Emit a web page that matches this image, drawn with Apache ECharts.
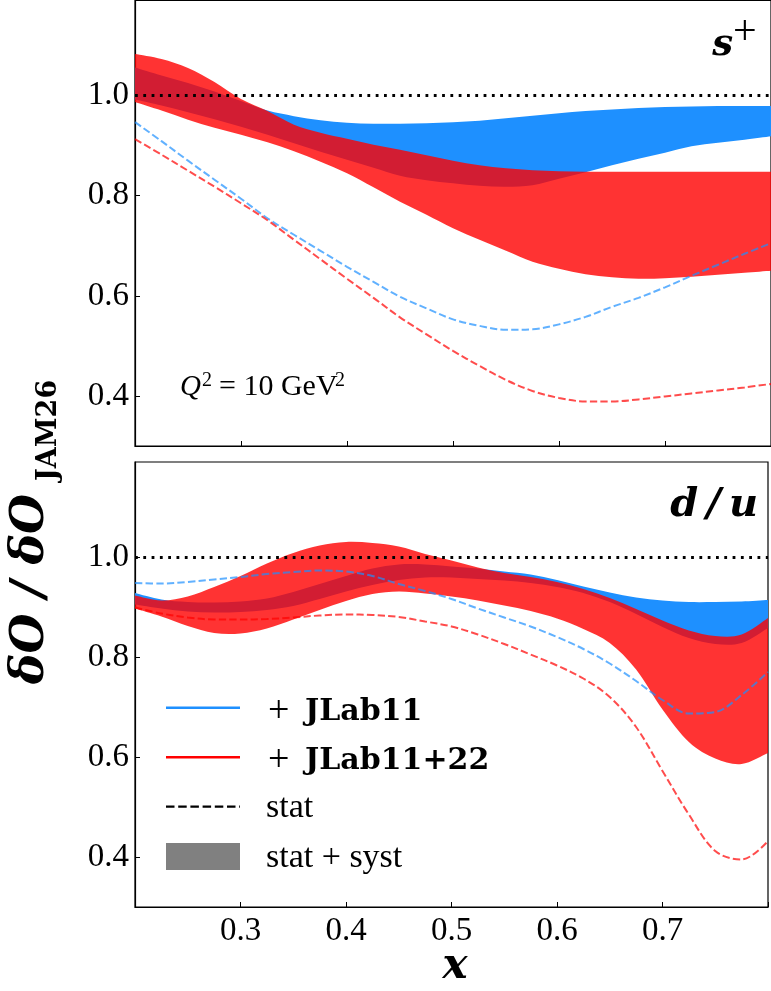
<!DOCTYPE html>
<html>
<head>
<meta charset="utf-8">
<script src="https://cdn.jsdelivr.net/npm/echarts@6/dist/echarts.min.js"></script>
<style>
  html, body { margin: 0; padding: 0; background: #fff; }
  #chart { width: 771px; height: 991px; }
</style>
</head>
<body>
<div id="chart"></div>
<script>
// Sampling grid in x shared by every curve
const xs = [0.200, 0.225, 0.250, 0.275, 0.300, 0.325, 0.350, 0.375, 0.400, 0.425, 0.450, 0.475, 0.500,
            0.525, 0.550, 0.575, 0.600, 0.625, 0.650, 0.675, 0.700, 0.725, 0.750, 0.775, 0.800];

// s+ panel: stat+syst bands (lower / upper) and stat-only ratios
const sPlusJLab11Lo   = [0.992,0.980,0.967,0.953,0.938,0.922,0.905,0.888,0.872,0.856,0.840,0.831,0.825,0.820,0.818,0.821,0.834,0.847,0.861,0.874,0.886,0.899,0.906,0.912,0.919];
const sPlusJLab11Hi   = [1.056,1.040,1.025,1.008,0.989,0.970,0.959,0.951,0.946,0.944,0.944,0.945,0.947,0.950,0.955,0.960,0.965,0.969,0.972,0.975,0.977,0.978,0.979,0.979,0.979];
const sPlusJLab22Lo   = [0.987,0.970,0.952,0.936,0.922,0.907,0.889,0.868,0.845,0.817,0.788,0.762,0.735,0.712,0.690,0.668,0.654,0.643,0.637,0.634,0.635,0.638,0.642,0.646,0.650];
const sPlusJLab22Hi   = [1.083,1.073,1.055,1.027,0.993,0.969,0.942,0.926,0.914,0.902,0.892,0.881,0.870,0.861,0.855,0.851,0.849,0.848,0.848,0.848,0.848,0.848,0.848,0.848,0.848];
const sPlusJLab11Stat = [0.947,0.909,0.870,0.832,0.794,0.755,0.722,0.690,0.658,0.628,0.598,0.575,0.553,0.540,0.532,0.533,0.543,0.558,0.578,0.596,0.617,0.640,0.662,0.684,0.705];
const sPlusJLab22Stat = [0.913,0.882,0.850,0.818,0.785,0.751,0.712,0.673,0.634,0.596,0.557,0.523,0.490,0.460,0.432,0.410,0.396,0.389,0.389,0.393,0.399,0.405,0.411,0.417,0.424];

// d/u panel
const duJLab11Lo   = [0.905,0.897,0.891,0.889,0.890,0.894,0.902,0.916,0.931,0.944,0.954,0.959,0.959,0.956,0.953,0.948,0.940,0.928,0.910,0.886,0.860,0.838,0.826,0.828,0.858];
const duJLab11Hi   = [0.928,0.915,0.910,0.909,0.911,0.917,0.930,0.946,0.962,0.977,0.985,0.985,0.981,0.977,0.971,0.965,0.954,0.941,0.929,0.919,0.913,0.910,0.910,0.911,0.914];
const duJLab22Lo   = [0.897,0.881,0.862,0.848,0.847,0.857,0.875,0.894,0.912,0.926,0.931,0.927,0.921,0.913,0.903,0.892,0.877,0.856,0.828,0.775,0.695,0.630,0.597,0.586,0.608];
const duJLab22Hi   = [0.923,0.913,0.921,0.940,0.962,0.987,1.008,1.023,1.030,1.028,1.021,1.006,0.993,0.979,0.968,0.960,0.950,0.936,0.918,0.896,0.873,0.853,0.842,0.845,0.878];
const duJLab11Stat = [0.948,0.947,0.950,0.955,0.960,0.966,0.970,0.973,0.971,0.962,0.946,0.932,0.916,0.897,0.879,0.861,0.840,0.816,0.787,0.752,0.714,0.687,0.690,0.724,0.770];
const duJLab22Stat = [0.899,0.887,0.879,0.875,0.875,0.876,0.879,0.883,0.885,0.884,0.880,0.871,0.861,0.845,0.826,0.805,0.783,0.757,0.720,0.660,0.572,0.485,0.412,0.395,0.432];

// Axis ticks
const xTickLabels = [0.3, 0.4, 0.5, 0.6, 0.7];
const yTickValues = [0.4, 0.6, 0.8, 1.0];
const refRatio = 1.0;

const BLUE = '#1E90FF';
const RED = '#FF0000';
const SERIF = '"Liberation Serif", "DejaVu Serif", serif';
const SERIF_WIDE = '"DejaVu Serif", "Liberation Serif", serif';

const pts = arr => xs.map((x, i) => [x, arr[i]]);
const SMOOTH = 0.35;

// Cubic Catmull-Rom segments through already projected pixel points
function curveThrough(p) {
  let d = '';
  for (let i = 0; i < p.length - 1; i++) {
    const p0 = p[i - 1] || p[i], p1 = p[i], p2 = p[i + 1], p3 = p[i + 2] || p[i + 1];
    const c1 = [p1[0] + (p2[0] - p0[0]) / 6, p1[1] + (p2[1] - p0[1]) / 6];
    const c2 = [p2[0] - (p3[0] - p1[0]) / 6, p2[1] - (p3[1] - p1[1]) / 6];
    d += 'C' + c1[0] + ',' + c1[1] + ' ' + c2[0] + ',' + c2[1] + ' ' + p2[0] + ',' + p2[1];
  }
  return d;
}

// Filled region between a lower and an upper curve
function band(gi, lo, hi, fill) {
  return {
    type: 'custom', xAxisIndex: gi, yAxisIndex: gi, silent: true, clip: true,
    data: xs.map((x, i) => [x, lo[i], hi[i]]),
    encode: { x: 0, y: [1, 2] },
    renderItem: (params, api) => {
      if (params.dataIndex !== 0) return null;
      const top = xs.map((x, i) => api.coord([x, hi[i]]));
      const bot = xs.map((x, i) => api.coord([x, lo[i]])).reverse();
      const d = 'M' + top[0][0] + ',' + top[0][1] + curveThrough(top) +
                'L' + bot[0][0] + ',' + bot[0][1] + curveThrough(bot) + 'Z';
      return { type: 'path', shape: { pathData: d }, style: { fill: fill, stroke: null } };
    }
  };
}

function statLine(gi, arr, color, withRef) {
  const s = { type: 'line', xAxisIndex: gi, yAxisIndex: gi, data: pts(arr), symbol: 'none',
    smooth: SMOOTH, silent: true,
    lineStyle: { color: color, width: 2, type: [7.4, 3.2], opacity: 0.7 } };
  if (withRef) {
    s.markLine = {
      silent: true, symbol: ['none', 'none'], label: { show: false },
      lineStyle: { color: '#000', width: 2.8, type: [2.8, 5.5] },
      data: [{ yAxis: refRatio }]
    };
  }
  return s;
}

function xAxisCfg(gi, showLabels) {
  return {
    gridIndex: gi, type: 'value', min: 0.2, max: 0.8, interval: 0.1,
    axisLine: { show: true, lineStyle: { color: '#000', width: 1.2 } },
    axisTick: { show: true, inside: true, length: 5, lineStyle: { color: '#000', width: 1 } },
    axisLabel: {
      show: showLabels, color: '#000', fontFamily: SERIF, fontSize: 33, margin: 8,
      formatter: v => xTickLabels.some(t => Math.abs(t - v) < 1e-6) ? v.toFixed(1) : ''
    },
    splitLine: { show: false }
  };
}

function yAxisCfg(gi) {
  return {
    gridIndex: gi, type: 'value', min: 0.3, max: 1.19,
    axisLine: { show: true, lineStyle: { color: '#000', width: 1.2 } },
    axisTick: { show: true, inside: true, length: 5, customValues: yTickValues,
                lineStyle: { color: '#000', width: 1 } },
    axisLabel: { show: true, customValues: yTickValues, color: '#000', fontFamily: SERIF,
                 fontSize: 33, margin: 6, formatter: v => v.toFixed(1) },
    splitLine: { show: false }
  };
}

const gridBox = { show: true, borderColor: '#000', borderWidth: 1.2, backgroundColor: 'transparent' };

const txt = (x, y, text, font, align, extra) => Object.assign({
  type: 'text', x: x, y: y, silent: true,
  style: { text: text, font: font, fill: '#000', align: align || 'left', verticalAlign: 'middle' }
}, extra || {});

const option = {
  animation: false,
  backgroundColor: '#fff',
  grid: [
    Object.assign({ left: 135, top: 0.5, width: 640, height: 445.5 }, gridBox),
    Object.assign({ left: 135, top: 462, width: 640, height: 445 }, gridBox)
  ],
  xAxis: [xAxisCfg(0, false), xAxisCfg(1, true)],
  yAxis: [yAxisCfg(0), yAxisCfg(1)],
  series: [
    band(0, sPlusJLab11Lo, sPlusJLab11Hi, BLUE),
    band(0, sPlusJLab22Lo, sPlusJLab22Hi, 'rgba(255,0,0,0.8)'),
    statLine(0, sPlusJLab11Stat, BLUE, false),
    statLine(0, sPlusJLab22Stat, RED, true),
    band(1, duJLab11Lo, duJLab11Hi, BLUE),
    band(1, duJLab22Lo, duJLab22Hi, 'rgba(255,0,0,0.8)'),
    statLine(1, duJLab11Stat, BLUE, false),
    statLine(1, duJLab22Stat, RED, true)
  ],
  graphic: [
    // panel tags
    txt(733, 45.5, 's', 'bold italic 37px ' + SERIF_WIDE, 'right'),
    txt(733, 33, '+', '42px ' + SERIF, 'left'),
    txt(758, 506, 'd\u2009/\u2009u', 'bold italic 40px ' + SERIF_WIDE, 'right'),
    // scale label
    txt(180, 387, 'Q', 'italic 29px ' + SERIF, 'left'),
    txt(202, 381, '2', '20px ' + SERIF, 'left'),
    txt(219, 387, '= 10 GeV', '30px ' + SERIF, 'left'),
    txt(335, 381, '2', '20px ' + SERIF, 'left'),
    // axis titles
    txt(455, 967, 'x', 'bold italic 42px ' + SERIF_WIDE, 'center'),
    txt(31.5, 589, '\u03B4O / \u03B4O', 'bold italic 46px ' + SERIF_WIDE, 'center', { rotation: Math.PI / 2 }),
    txt(48.5, 481, 'JAM26', 'bold 27px ' + SERIF_WIDE, 'left', { rotation: Math.PI / 2 }),
    // legend
    { type: 'line', silent: true, shape: { x1: 166, y1: 707.7, x2: 240, y2: 707.7 },
      style: { stroke: BLUE, lineWidth: 2.6 } },
    { type: 'line', silent: true, shape: { x1: 166, y1: 757.3, x2: 240, y2: 757.3 },
      style: { stroke: RED, lineWidth: 2.6 } },
    { type: 'line', silent: true, shape: { x1: 166, y1: 806.7, x2: 240, y2: 806.7 },
      style: { stroke: '#000', lineWidth: 2.2, lineDash: [8.5, 3.7] } },
    { type: 'rect', silent: true, shape: { x: 166, y: 843, width: 74, height: 27 },
      style: { fill: '#808080' } },
    txt(268, 712, '+', '38px ' + SERIF, 'left'),
    txt(305, 712.6, 'JLab11', 'bold 30px ' + SERIF_WIDE, 'left'),
    txt(268, 761, '+', '38px ' + SERIF, 'left'),
    txt(305, 761.6, 'JLab11+22', 'bold 30px ' + SERIF_WIDE, 'left'),
    txt(266, 808.5, 'stat', '34px ' + SERIF, 'left'),
    txt(266, 857.8, 'stat + syst', '34px ' + SERIF, 'left')
  ]
};

const chart = echarts.init(document.getElementById('chart'), null, { renderer: 'canvas' });
chart.setOption(option);
</script>
</body>
</html>
